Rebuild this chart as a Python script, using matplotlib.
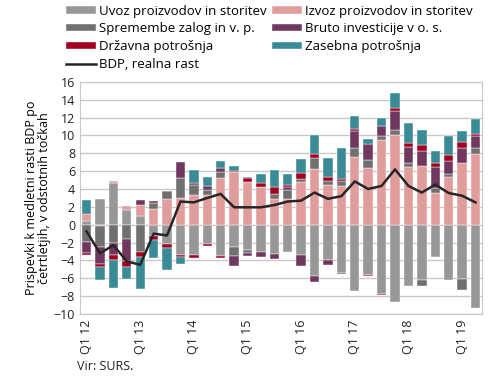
import matplotlib.pyplot as plt
import numpy as np

plt.rcParams["font.family"] = ["Open Sans", "DejaVu Sans"]

quarters = [f"Q{q} {y}" for y in range(12, 20) for q in range(1, 5)][:30]
tick_labels = [f"Q1 {y}" for y in range(12, 20)]

uvoz = [0.4, 2.9, 4.65, 1.7, 1.0, -1.3, -2.2, -3.35, -3.45, -2.2,
        -3.5, -2.5, -2.8, -3.1, -3.3, -3.1, -3.43, -5.7, -3.9, -5.4,
        -7.45, -5.6, -7.8, -8.7, -6.9, -6.15, -3.6, -6.2, -6.07, -9.3]
izvoz = [0.8, -0.1, 0.2, 0.37, 1.25, 1.75, 2.9, 3.0, 3.35, 3.3,
         5.25, 5.9, 4.8, 4.17, 2.9, 2.87, 4.84, 6.26, 4.47, 4.36,
         7.56, 6.33, 9.5, 10.0, 6.44, 6.6, 3.54, 5.33, 6.89, 7.93]
zalog = [-1.95, -2.4, -2.05, -1.6, -3.1, 0.65, 0.93, 2.23, 1.05, 0.63,
         0.6, -1.0, -0.35, 0.0, 0.56, 1.0, 0.3, 1.19, 0.45, 0.56,
         1.0, 0.93, 0.45, 0.56, 0.52, -0.74, 0.56, 0.34, -1.27, 0.63]
investicije = [-1.2, -1.85, -1.3, -2.5, 0.5, 0.3, 0.0, 1.75, 0.26, 0.45,
               0.55, -1.12, -0.35, -0.56, -0.52, 0.4, -1.23, -0.74, -0.56, -0.1,
               1.94, 1.79, 1.15, 2.23, 1.71, 1.68, 2.31, 1.42, 1.68, 1.42]
drzavna = [-0.3, -0.4, -0.55, -0.63, -0.5, -0.45, -0.37, -0.25, -0.25, -0.2,
           -0.2, 0.15, 0.45, 0.48, 0.74, 0.2, 0.63, 0.48, 0.41, 0.19,
           0.19, -0.19, -0.1, 0.26, 0.52, 0.63, 0.56, 0.67, 0.67, 0.19]
zasebna = [1.6, -1.4, -3.2, -1.35, -3.65, -2.0, -2.5, -0.8, 1.5, 0.95,
           0.7, 0.55, 0.15, 1.0, 1.9, 1.25, 1.6, 2.12, 2.1, 3.54,
           1.53, 0.56, 0.9, 1.68, 2.16, 1.68, 1.3, 2.23, 1.27, 1.64]
bdp = [-0.75, -3.2, -2.3, -4.1, -4.5, -1.0, -1.2, 2.6, 2.5, 3.0,
       3.45, 1.95, 1.95, 1.95, 2.2, 2.6, 2.7, 3.6, 2.9, 3.2,
       4.85, 4.0, 4.35, 6.2, 4.35, 3.6, 4.5, 3.55, 3.25, 2.5]

series = [
    ("Uvoz proizvodov in storitev", uvoz, "#979797"),
    ("Izvoz proizvodov in storitev", izvoz, "#e19d9c"),
    ("Spremembe zalog in v. p.", zalog, "#707070"),
    ("Bruto investicije v o. s.", investicije, "#71385f"),
    ("Državna potrošnja", drzavna, "#a3001f"),
    ("Zasebna potrošnja", zasebna, "#3a8b96"),
]

fig = plt.figure(figsize=(4.9, 3.81), dpi=100)
ax = fig.add_axes([0.163, 0.176, 0.821, 0.609])

x = np.arange(len(quarters))
pos_bottom = np.zeros(len(x))
neg_bottom = np.zeros(len(x))
handles = {}
for name, vals, color in series:
    v = np.array(vals)
    bottom = np.where(v >= 0, pos_bottom, neg_bottom)
    handles[name] = ax.bar(x, v, 0.7, bottom=bottom, color=color,
                           edgecolor="white", linewidth=0.3, zorder=2)
    pos_bottom += np.clip(v, 0, None)
    neg_bottom += np.clip(v, None, 0)

line, = ax.plot(x, bdp, color="#262626", linewidth=1.8, zorder=3)

ax.set_xlim(-0.5, len(x) - 0.5)
ax.set_ylim(-10, 16)
ax.set_yticks(range(-10, 17, 2))
ax.set_xticks(range(0, len(x), 4))
ax.set_xticklabels(tick_labels, rotation=90, fontsize=9)
ax.tick_params(axis="both", length=0, labelsize=9, colors="#222222")
ax.tick_params(axis="x", pad=4)
ax.grid(axis="y", color="#c8c8c8", linewidth=1.0, zorder=0)
ax.set_axisbelow(True)
for s in ax.spines.values():
    s.set_color("#c8c8c8")

ax.set_ylabel("Prispevki k medletni rasti BDP po\nčetrtletjih, v odstotnih točkah",
              fontsize=9, labelpad=2, linespacing=1.0)

order = ["Uvoz proizvodov in storitev", "Spremembe zalog in v. p.", "Državna potrošnja",
         None, "Izvoz proizvodov in storitev", "Bruto investicije v o. s.", "Zasebna potrošnja"]
hs, ls = [], []
for name in order:
    if name is None:
        hs.append(line)
        ls.append("BDP, realna rast")
    else:
        hs.append(handles[name])
        ls.append(name)
fig.legend(hs, ls, ncol=2, loc="upper left", bbox_to_anchor=(0.115, 1.012),
           frameon=False, fontsize=9.5, handlelength=2.3, handleheight=0.5,
           handletextpad=0.2, columnspacing=0.45, labelspacing=0.36, borderpad=0.2)

fig.text(0.158, 0.028, "Vir: SURS.", fontsize=9, color="#222222")

fig.savefig("out.png", dpi=100)
